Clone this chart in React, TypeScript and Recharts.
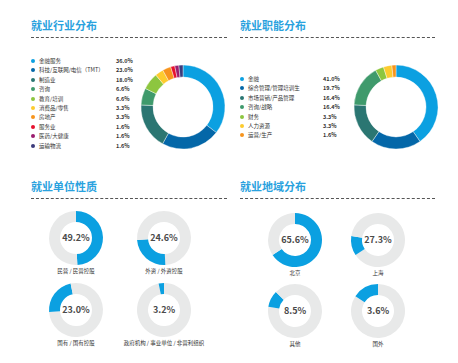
import React from "react";
import { PieChart, Pie, Cell } from "recharts";

// 就业行业分布
const industryNames = ["金融服务", "科技/互联网/电信（TMT）", "制造业", "咨询", "教育/培训", "消费品/零售", "房地产", "服务业", "医药/大健康", "运输物流"];
const industryValues = [36.0, 23.0, 18.0, 6.6, 6.6, 3.3, 3.3, 1.6, 1.6, 1.6];
const industryColors = ["#0ba0e1", "#0467a8", "#2b7672", "#3f9a6c", "#8dc63f", "#fdcb2e", "#f7941d", "#e7112d", "#9b1d6f", "#3c3b7b"];

// 就业职能分布
const functionNames = ["金融", "综合管理/管理培训生", "市场营销/产品管理", "咨询/战略", "财务", "人力资源", "运营/生产"];
const functionValues = [41.0, 19.7, 16.4, 16.4, 3.3, 3.3, 1.6];
const functionColors = ["#0ba0e1", "#0467a8", "#2b7672", "#3f9a6c", "#8dc63f", "#fdcb2e", "#f7941d"];

// 就业单位性质
const unitNames = ["民营 / 民营控股", "外资 / 外资控股", "国有 / 国有控股", "政府机构 / 事业单位 / 非营利组织"];
const unitValues = [49.2, 24.6, 23.0, 3.2];
const unitArcStart = [0, 49.2, 73.8, 96.8];

// 就业地域分布
const regionNames = ["北京", "上海", "其他", "国外"];
const regionValues = [65.6, 27.3, 8.5, 3.6];
const regionArcStart = [0, 65.6, 77.5, 84.2];
const regionArcShare = [65.6, 11.7, 10.0, 15.8];

const FONT = '"Noto Sans CJK SC", "Noto Sans", sans-serif';
const BLUE = "#0ba0e1";
const GREY = "#e8e9e9";
const NO_MARGIN = { top: 0, right: 0, bottom: 0, left: 0 };

const Title = ({ x, y, text, width }: { x: number; y: number; text: string; width: number }) => (
  <>
    <div style={{ position: "absolute", left: x, top: y - 8, fontSize: 11, fontWeight: 700, color: "#2aa2de", whiteSpace: "nowrap", lineHeight: "14px" }}>
      {text}
    </div>
    <div style={{ position: "absolute", left: x, top: y + 11, width, borderTop: "1px dashed #555" }} />
  </>
);

const Legend = ({ x, y, step, valueX, names, values, colors }: any) => (
  <>
    {names.map((n: string, i: number) => (
      <div key={n} style={{ position: "absolute", left: x, top: y + i * step - 4, height: 8, display: "flex", alignItems: "center", fontSize: 5.5, color: "#333", whiteSpace: "nowrap" }}>
        <span style={{ width: 4, height: 4, borderRadius: 2, background: colors[i], marginRight: 4, display: "inline-block" }} />
        <span>{n}</span>
        <span style={{ position: "absolute", left: valueX, fontWeight: 700 }}>{values[i].toFixed(1)}%</span>
      </div>
    ))}
  </>
);

const BigDonut = ({ cx, cy, values, colors }: any) => {
  const data = values.map((v: number, i: number) => ({ name: i, value: v }));
  return (
    <div style={{ position: "absolute", left: cx - 50, top: cy - 50 }}>
      <PieChart width={100} height={100} margin={NO_MARGIN}>
        <Pie data={data} dataKey="value" cx={50} cy={50} innerRadius={30} outerRadius={42} startAngle={90} endAngle={-270} stroke="#fff" strokeWidth={0.4} isAnimationActive={false}>
          {data.map((d: any, i: number) => <Cell key={i} fill={colors[i]} />)}
        </Pie>
      </PieChart>
    </div>
  );
};

const SmallDonut = ({ cx, cy, start, share, value, label }: any) => {
  const data = [
    { k: "a", value: start },
    { k: "b", value: share },
    { k: "c", value: Math.max(0, 100 - start - share) },
  ];
  return (
    <>
      <div style={{ position: "absolute", left: cx - 30, top: cy - 30 }}>
        <PieChart width={60} height={60} margin={NO_MARGIN}>
          <Pie data={data} dataKey="value" cx={30} cy={30} innerRadius={16} outerRadius={27} startAngle={90} endAngle={-270} stroke="none" isAnimationActive={false}>
            <Cell fill={GREY} />
            <Cell fill={BLUE} />
            <Cell fill={GREY} />
          </Pie>
        </PieChart>
      </div>
      <div style={{ position: "absolute", left: cx - 30, width: 60, top: cy - 7, textAlign: "center", fontSize: 9, fontWeight: 700, color: "#4a4a4a", lineHeight: "14px" }}>
        {value.toFixed(1)}%
      </div>
      <div style={{ position: "absolute", left: cx - 60, width: 120, top: cy + 29, textAlign: "center", fontSize: 5.5, color: "#333", lineHeight: "8px", whiteSpace: "nowrap" }}>
        {label}
      </div>
    </>
  );
};

export default function App() {
  const unitPos = [[76, 238], [164, 238], [76, 310], [164, 310]];
  const regionPos = [[295, 240], [378, 240], [295, 311], [378, 311]];
  return (
    <div style={{ position: "absolute", left: 0, top: 0, width: 458, height: 363, background: "#fff", fontFamily: FONT, overflow: "hidden" }}>
      <Title x={31} y={26} text="就业行业分布" width={196} />
      <Title x={240} y={26} text="就业职能分布" width={195} />
      <Title x={31} y={187} text="就业单位性质" width={196} />
      <Title x={240} y={187} text="就业地域分布" width={195} />

      <Legend x={31} y={61} step={9.4} valueX={85} names={industryNames} values={industryValues} colors={industryColors} />
      <BigDonut cx={182.5} cy={107} values={industryValues} colors={industryColors} />

      <Legend x={240} y={79} step={9.4} valueX={83} names={functionNames} values={functionValues} colors={functionColors} />
      <BigDonut cx={396} cy={107} values={functionValues} colors={functionColors} />

      {unitNames.map((n, i) => (
        <SmallDonut key={n} cx={unitPos[i][0]} cy={unitPos[i][1]} start={unitArcStart[i]} share={unitValues[i]} value={unitValues[i]} label={n} />
      ))}
      {regionNames.map((n, i) => (
        <SmallDonut key={n} cx={regionPos[i][0]} cy={regionPos[i][1]} start={regionArcStart[i]} share={regionArcShare[i]} value={regionValues[i]} label={n} />
      ))}
    </div>
  );
}
